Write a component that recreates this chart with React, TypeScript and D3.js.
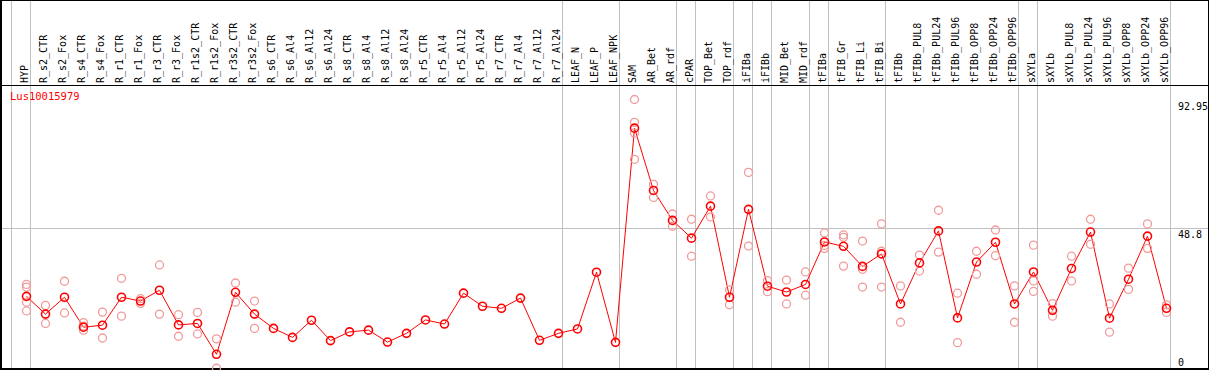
import React from 'react';
import * as d3 from 'd3';

const geneName = 'Lus10015979';

const samples = [
  'HYP', 'R_s2_CTR', 'R_s2_Fox', 'R_s4_CTR', 'R_s4_Fox', 'R_r1_CTR', 'R_r1_Fox', 'R_r3_CTR', 'R_r3_Fox',
  'R_r1s2_CTR', 'R_r1s2_Fox', 'R_r3s2_CTR', 'R_r3s2_Fox', 'R_s6_CTR', 'R_s6_Al4', 'R_s6_Al12', 'R_s6_Al24',
  'R_s8_CTR', 'R_s8_Al4', 'R_s8_Al12', 'R_s8_Al24', 'R_r5_CTR', 'R_r5_Al4', 'R_r5_Al12', 'R_r5_Al24',
  'R_r7_CTR', 'R_r7_Al4', 'R_r7_Al12', 'R_r7_Al24', 'LEAF_N', 'LEAF_P', 'LEAF_NPK', 'SAM', 'AR_Bet', 'AR_rdf',
  'cPAR', 'TOP_Bet', 'TOP_rdf', 'iFIBa', 'iFIBb', 'MID_Bet', 'MID_rdf', 'tFIBa', 'tFIB_Gr', 'tFIB_Li', 'tFIB_Bi',
  'tFIBb', 'tFIBb_PUL8', 'tFIBb_PUL24', 'tFIBb_PUL96', 'tFIBb_OPP8', 'tFIBb_OPP24', 'tFIBb_OPP96',
  'sXYLa', 'sXYLb', 'sXYLb_PUL8', 'sXYLb_PUL24', 'sXYLb_PUL96', 'sXYLb_OPP8', 'sXYLb_OPP24', 'sXYLb_OPP96',
];

// mean expression per sample
const means = [
  25.3, 19.2, 25.0, 14.7, 15.4, 25.0, 23.7, 27.4, 15.5, 16.0, 5.4, 26.7, 19.2, 14.3, 11.2, 17.1, 10.1,
  13.1, 13.7, 9.6, 12.6, 17.2, 15.8, 26.4, 21.9, 21.2, 24.7, 10.2, 12.6, 14.1, 33.6, 9.5, 83.1, 61.7, 51.4,
  45.3, 56.3, 25.0, 55.2, 28.8, 26.8, 29.4, 44.0, 42.5, 35.6, 39.9, 22.7, 36.8, 47.8, 17.9, 37.1, 43.9, 22.7,
  33.7, 20.5, 34.9, 47.4, 17.8, 31.2, 46.0, 21.2,
];

// individual replicates (empty where only the mean is shown)
const replicates = [
  [29.4, 28.5, 23.3, 20.3], [22.2, 16.0], [30.5, 19.6], [16.3, 15.1, 13.7], [19.9, 11.0], [31.5, 18.5],
  [24.5, 22.9], [36.1, 19.2], [19.0, 11.6], [19.8, 12.4], [10.7, 0.6], [29.9, 23.3], [23.7, 14.3],
  [], [], [], [], [], [], [], [], [], [], [], [], [], [], [], [], [], [], [],
  [92.95, 85.1, 81.4, 72.4], [63.8, 59.3], [53.6, 49.4], [51.8, 39.1], [59.8, 52.6], [27.5, 22.4],
  [67.9, 42.6], [30.7, 26.9], [30.9, 22.7], [33.7, 25.7], [47.1, 42.8, 41.8], [46.4, 45.6, 35.7],
  [44.3, 34.6, 28.5], [50.2, 40.8, 28.5], [28.9, 16.4], [39.5, 34.0], [54.9, 40.5], [26.4, 9.4],
  [40.8, 32.9], [48.1, 39.3], [28.9, 16.4], [42.9, 30.6, 27.0], [22.8, 18.5], [39.1, 30.6],
  [51.8, 43.2], [22.7, 13.0], [35.0, 27.7], [50.2, 41.8], [22.4, 19.8],
];

// index of the first sample of each tissue group (last entry closes the plot)
const groupStarts = [0, 1, 29, 32, 35, 36, 38, 39, 40, 42, 43, 46, 53, 54, 61];

const yTicks = [0, 48.8, 92.95];

const W = 1209;
const H = 370;
const FONT = '"DejaVu Sans Mono", monospace';

export default function App() {
  const x = d3.scaleBand<string>().domain(samples).range([11, 1170]);
  const y = d3.scaleLinear().domain([0, 92.95]).range([370, 99.5]);
  const cx = (i: number) => (x(samples[i]) as number) + 15.5;
  const lineX = (k: number) => (k < samples.length ? (x(samples[k]) as number) : x.range()[1]) + 0.5;

  const path = d3.line<number>()
    .x((_, i) => cx(i))
    .y(d => y(d))(means) as string;

  return (
    <>
      <style>{'body{margin:0}'}</style>
      <svg width={W} height={H} style={{ display: 'block', background: '#fff' }}>
        {groupStarts.map(k => (
          <line key={'g' + k} x1={lineX(k)} x2={lineX(k)} y1={0} y2={H} stroke="#c0c0c0" />
        ))}
        <line x1={0} x2={W} y1={Math.round(y(48.8)) + 0.5} y2={Math.round(y(48.8)) + 0.5} stroke="#c0c0c0" />

        {/* frame */}
        <line x1={0} x2={W} y1={0.5} y2={0.5} stroke="#000" />
        <line x1={0} x2={W} y1={85.5} y2={85.5} stroke="#000" />
        <line x1={1} x2={1} y1={0} y2={H} stroke="#000" strokeWidth={2} />
        <line x1={0} x2={W} y1={369} y2={369} stroke="#000" strokeWidth={2} />
        <line x1={1208.5} x2={1208.5} y1={0} y2={H} stroke="#000" />

        {samples.map((s, i) => (
          <text key={s} transform={`translate(${cx(i) + 1.5},83) rotate(-90)`}
            fontFamily={FONT} fontSize={10} fill="#000">{s}</text>
        ))}

        <text x={10} y={100} fontFamily={FONT} fontSize={10.5} fill="#ff0000">{geneName}</text>

        {yTicks.map(t => (
          <text key={t} x={1178} y={Math.min(y(t) + 10, 366)} fontFamily={FONT} fontSize={10} fill="#000">{t}</text>
        ))}

        <path d={path} fill="none" stroke="#ff0000" strokeWidth={1} />

        {replicates.map((reps, i) => reps.map((v, j) => (
          <circle key={i + '-' + j} cx={cx(i)} cy={y(v)} r={4} fill="none" stroke="#f09a9a" strokeWidth={1.3} />
        )))}

        {means.map((v, i) => (
          <circle key={'m' + i} cx={cx(i)} cy={y(v)} r={4} fill="none" stroke="#ff0000" strokeWidth={1.6} />
        ))}
      </svg>
    </>
  );
}
